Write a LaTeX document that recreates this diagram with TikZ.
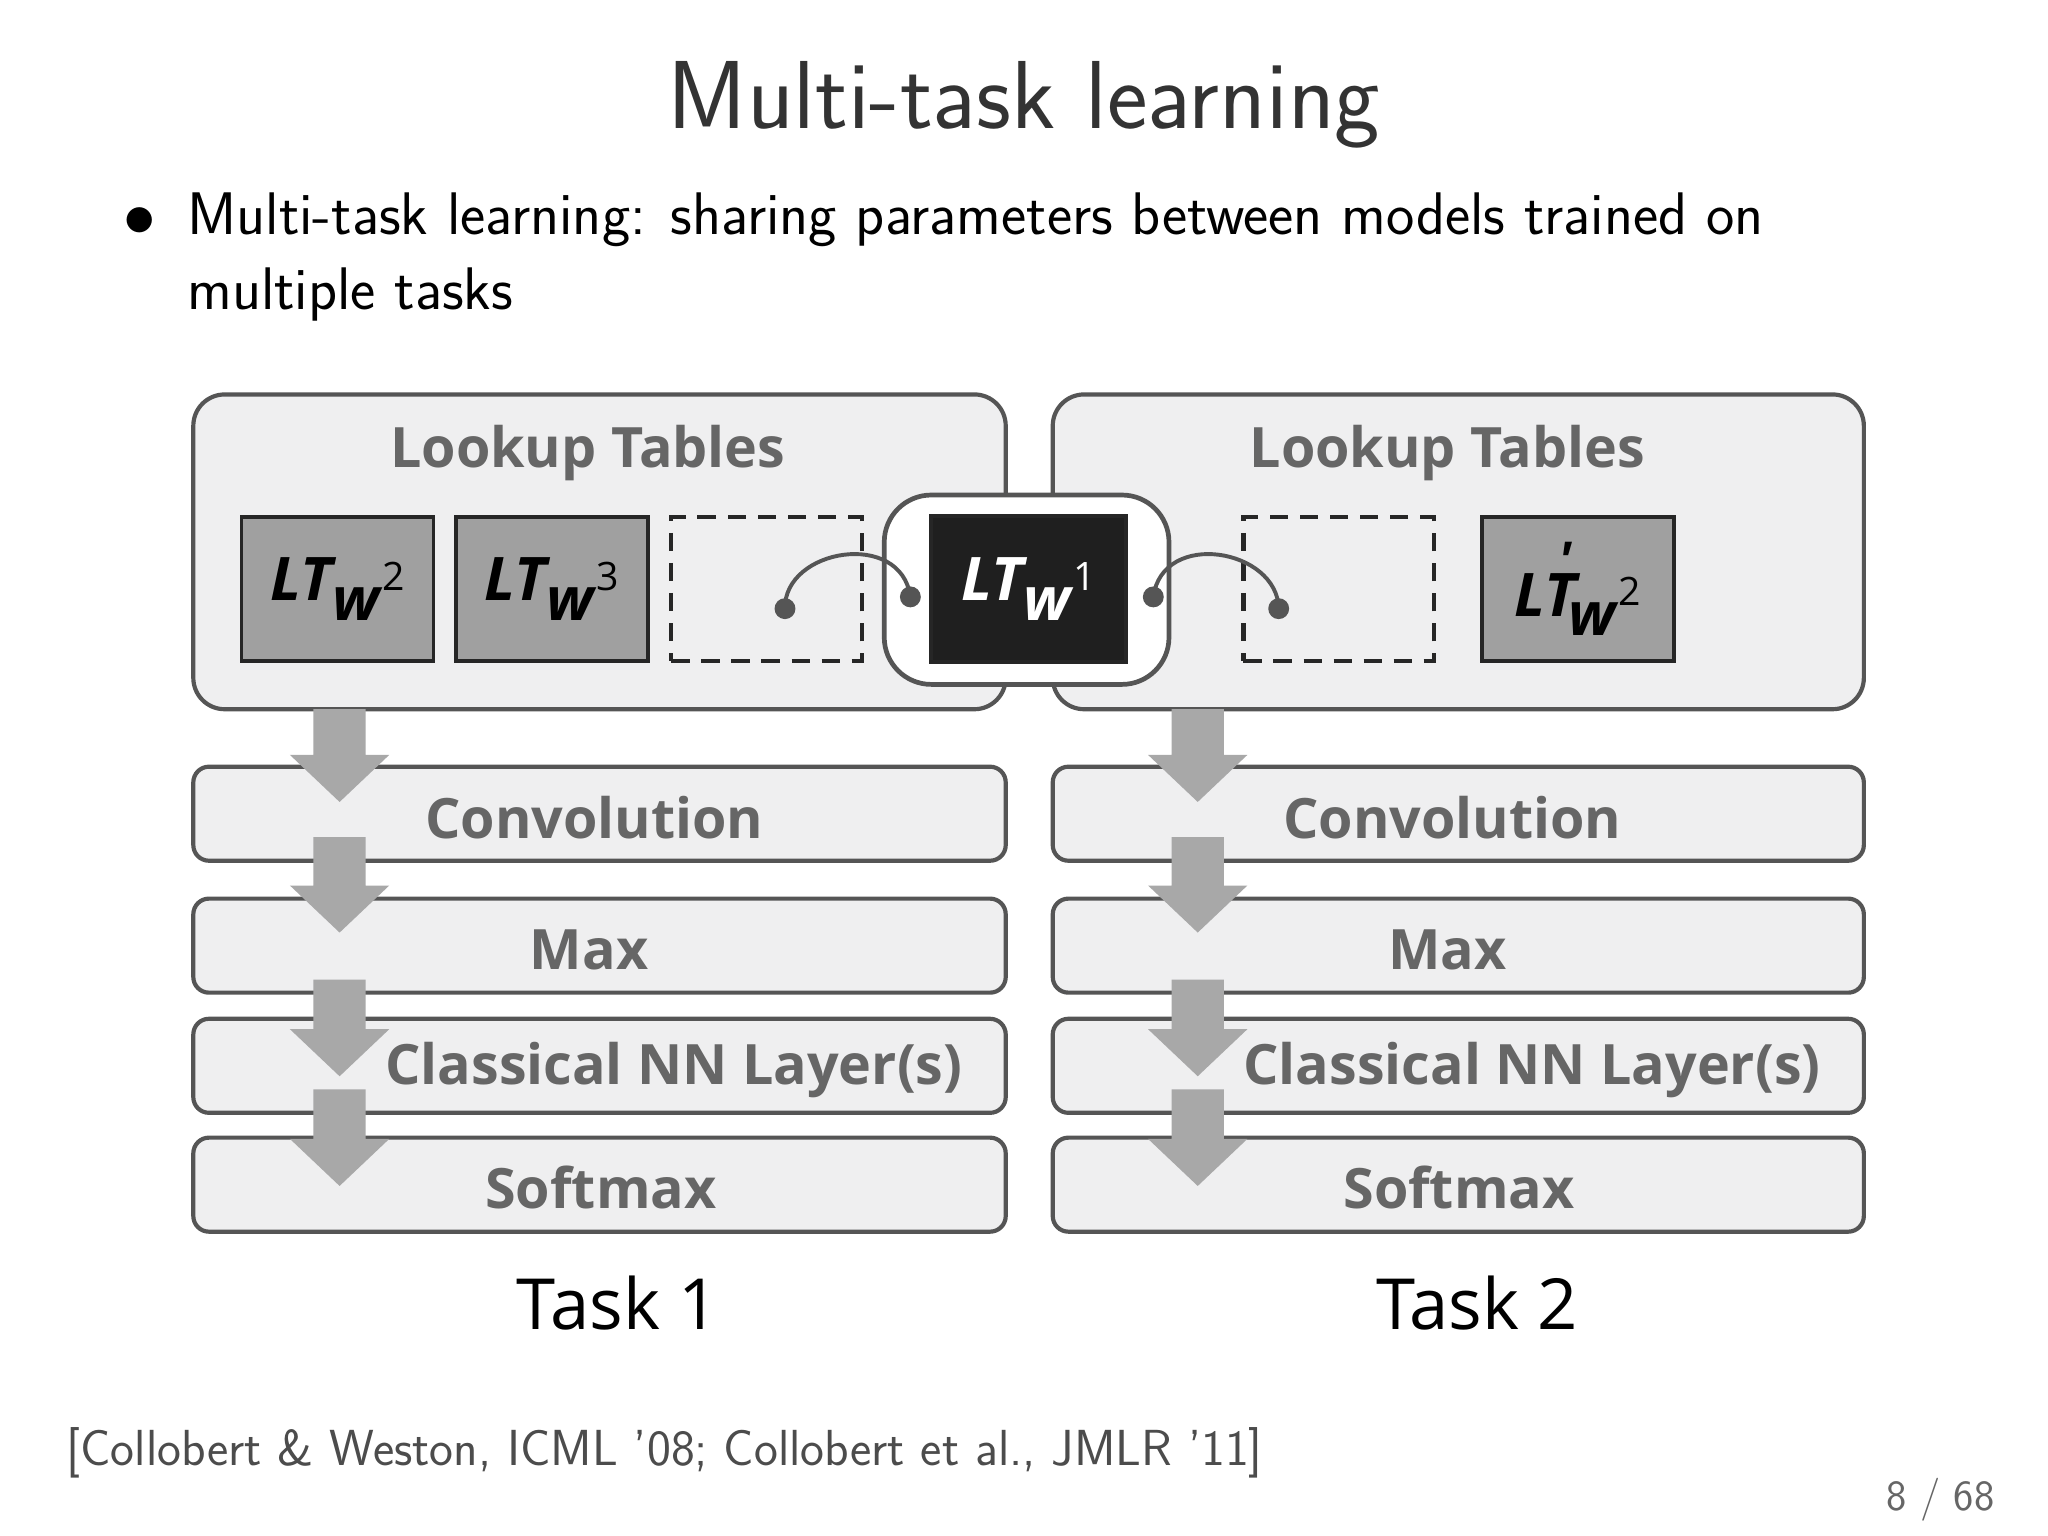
\documentclass[tikz,border=0pt]{standalone}
\usepackage{fontspec}
\newfontfamily\osans{Open Sans}
\usetikzlibrary{positioning}
\definecolor{boxfill}{HTML}{EFEFF0}
\definecolor{boxline}{HTML}{555555}
\definecolor{ltgray}{HTML}{A0A0A0}
\definecolor{arrgray}{HTML}{A8A8A8}
\definecolor{lbl}{HTML}{666666}
\definecolor{titlec}{HTML}{333333}
\newcommand{\LTlab}[2]{{\osans\bfseries\itshape LT\raisebox{-0.32em}{#1\kern0.05em\raisebox{0.5em}{\fontsize{15}{15}\selectfont\normalfont\osans #2}}}}
\newcommand{\garr}[3]{\fill[arrgray] (#1-20,#2) -- (#1+20,#2) -- (#1+20,#3-36) -- (#1+38,#3-36) -- (#1,#3) -- (#1-38,#3-36) -- (#1-20,#3-36) -- cycle;}
\begin{document}
\begin{tikzpicture}[x=0.5pt,y=-0.5pt,
  big/.style={draw=boxline,line width=1.6pt,fill=boxfill,rounded corners=12pt},
  layer/.style={draw=boxline,line width=1.6pt,fill=boxfill,rounded corners=6pt},
  ltbox/.style={draw=black!85,line width=1.4pt,fill=ltgray,minimum width=73.5pt,minimum height=55pt,font=\fontsize{23}{23}\selectfont},
  dbox/.style={draw=black!85,line width=1.6pt,dash pattern=on 7pt off 4.5pt,minimum width=73pt,minimum height=55pt},
  lab/.style={font=\osans\bfseries\fontsize{21.3}{21.3}\selectfont,text=lbl},
  dot/.style={circle,fill=boxline,inner sep=0pt,minimum size=8pt}]
\useasboundingbox (0,0) rectangle (1568,1176);
\fill[white] (0,0) rectangle (1568,1176);
\node[text=titlec,font=\sffamily\fontsize{37}{37}\selectfont] (title) at (784,80) {Multi-task learning};
\node[font=\sffamily\fontsize{23}{23}\selectfont] (bul) at (107,170) {$\bullet$};
\node[anchor=north west,align=left,inner sep=0pt,font=\sffamily\fontsize{23}{29}\selectfont] (btxt) at (143,147) {Multi-task learning: sharing parameters between models trained on\\multiple tasks};
% big boxes
\foreach \xa/\xb/\nm in {148/770/L,806/1427/R}{
  \draw[big] (\xa,302) rectangle (\xb,543);
  \draw[layer] (\xa,587) rectangle (\xb,659);
  \draw[layer] (\xa,688) rectangle (\xb,760);
  \draw[layer] (\xa,780) rectangle (\xb,852);
  \draw[layer] (\xa,871) rectangle (\xb,943);
}
\node[lab] (lt1) at (450,347) {Lookup Tables};
\node[lab] (lt2) at (1108,347) {Lookup Tables};
\node[lab] (c1) at (455,626) {Convolution};
\node[lab] (c2) at (1112,626) {Convolution};
\node[lab] (m1) at (451,727) {Max};
\node[lab] (m2) at (1108,727) {Max};
\node[lab] (n1) at (516,819) {Classical NN Layer(s)};
\node[lab] (n2) at (1173,819) {Classical NN Layer(s)};
\node[lab] (s1) at (460,909) {Softmax};
\node[lab] (s2) at (1117,909) {Softmax};
% LT boxes
\node[ltbox] (a) at (258.5,451) {\LTlab{w}{2}};
\node[ltbox] (b) at (422.5,451) {\LTlab{w}{3}};
\node[dbox] (d1) at (587,451) {};
\node[dbox] (d2) at (1025,451) {};
\node[ltbox] (e) at (1208,451) {{\osans\bfseries\itshape LT\kern-0.3em\raisebox{0.62em}{\fontsize{20}{20}\selectfont '}\kern-0.05em\raisebox{-0.32em}{w\kern0.05em\raisebox{0.5em}{\fontsize{15}{15}\selectfont\normalfont\osans 2}}}};
\draw[draw=boxline,line width=1.8pt,fill=white,rounded corners=18pt] (677,379) rectangle (895,524);
\node[ltbox,fill=black!88,text=white,minimum width=74.5pt,minimum height=56pt] (w1) at (787.5,451) {\LTlab{w}{1}};
% connectors
\node[dot] (p1) at (601,466) {};
\node[dot] (p2) at (697,457) {};
\node[dot] (p3) at (883,457) {};
\node[dot] (p4) at (979,466) {};
\draw[boxline,line width=1.5pt] (p1.center) .. controls (600,420) and (690,405) .. (p2.center);
\draw[boxline,line width=1.5pt] (p3.center) .. controls (890,405) and (978,420) .. (p4.center);
% arrows
\foreach \ax in {260,917}{
  \garr{\ax}{543}{614}
  \garr{\ax}{641}{714}
  \garr{\ax}{750}{824}
  \garr{\ax}{834}{908}
}
\node[font=\osans\fontsize{27}{27}\selectfont] (t1) at (473,998) {Task 1};
\node[font=\osans\fontsize{27}{27}\selectfont] (t2) at (1131,998) {Task 2};
\node[anchor=west,text=black!70,font=\sffamily\fontsize{19.4}{19.4}\selectfont] (cite) at (44,1112) {[Collobert \& Weston, ICML '08; Collobert et al., JMLR '11]};
\node[anchor=east,text=black!60,font=\sffamily\fontsize{16.5}{16.5}\selectfont] (pg) at (1534,1148) {8 / 68};
\end{tikzpicture}
\end{document}
